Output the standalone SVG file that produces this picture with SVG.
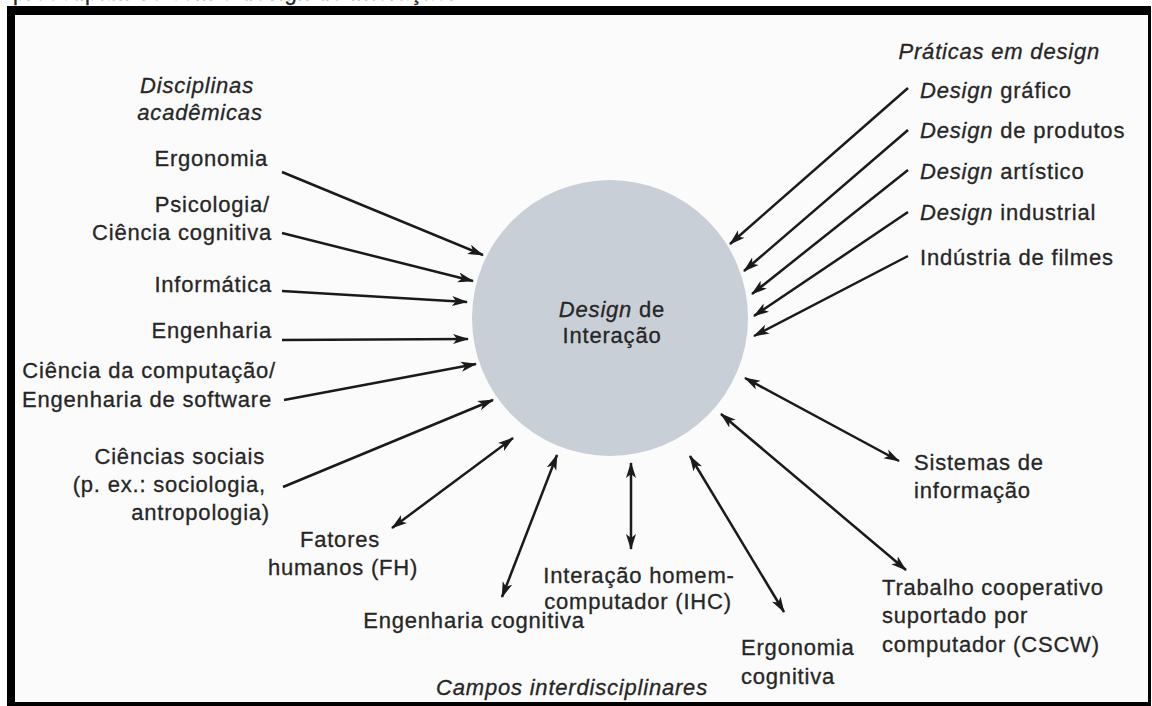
<svg xmlns="http://www.w3.org/2000/svg" width="1152" height="706" viewBox="0 0 1152 706">
<style>
.t{font-family:"Liberation Sans",Arial,sans-serif;font-size:22px;letter-spacing:0.8px;fill:#262626;stroke:#262626;stroke-width:0.3}
.i{font-style:italic}
.e{text-anchor:end}
.m{text-anchor:middle}
.c{stroke:#1a1a1a;stroke-width:2.5;fill:none}
.one{marker-end:url(#ah)}
.two{marker-start:url(#ah);marker-end:url(#ah)}
</style>
<defs>
<marker id="ah" viewBox="0 0 16 11" refX="15" refY="5.5" markerWidth="16" markerHeight="11" markerUnits="userSpaceOnUse" orient="auto-start-reverse">
<path d="M0,0.5 L16,5.5 L0,10.5 L4,5.5 z" fill="#1a1a1a"/>
</marker>
</defs>
<rect x="0" y="0" width="1152" height="706" fill="#ffffff"/>
<text class="t" x="13" y="0">preocupam-se com o design de interação.</text>
<rect x="7" y="6" width="1144" height="700" fill="#000"/>
<rect x="15" y="15" width="1133" height="687" fill="#fbfbfb"/>

<g id="center">
<circle cx="610" cy="318" r="138" fill="#c9cfd7"/>
<text class="t m" x="612" y="317"><tspan class="i">Design</tspan> de</text>
<text class="t m" x="612" y="343">Interação</text>
</g>

<g id="heading-disciplinas">
<text class="t i m" x="197" y="93">Disciplinas</text>
<text class="t i m" x="200" y="120">acadêmicas</text>
</g>
<g id="ergonomia"><text class="t e" x="268" y="166">Ergonomia</text></g>
<g id="psicologia">
<text class="t e" x="270" y="212">Psicologia/</text>
<text class="t e" x="272" y="240">Ciência cognitiva</text>
</g>
<g id="informatica"><text class="t e" x="272" y="292">Informática</text></g>
<g id="engenharia"><text class="t e" x="272" y="338">Engenharia</text></g>
<g id="ciencia-computacao">
<text class="t e" x="276" y="378">Ciência da computação/</text>
<text class="t e" x="272" y="407">Engenharia de software</text>
</g>
<g id="ciencias-sociais">
<text class="t e" x="265" y="464">Ciências sociais</text>
<text class="t e" x="266" y="492">(p. ex.: sociologia,</text>
<text class="t e" x="270" y="520">antropologia)</text>
</g>

<g id="fatores-humanos">
<text class="t m" x="340" y="547">Fatores</text>
<text class="t m" x="343" y="575">humanos (FH)</text>
</g>
<g id="engenharia-cognitiva"><text class="t m" x="474" y="628">Engenharia cognitiva</text></g>
<g id="ihc">
<text class="t m" x="639" y="583">Interação homem-</text>
<text class="t m" x="638" y="609">computador (IHC)</text>
</g>
<g id="ergonomia-cognitiva">
<text class="t" x="741" y="655">Ergonomia</text>
<text class="t" x="741" y="684">cognitiva</text>
</g>
<g id="sistemas-informacao">
<text class="t" x="914" y="470">Sistemas de</text>
<text class="t" x="914" y="498">informação</text>
</g>
<g id="cscw">
<text class="t" x="882" y="595">Trabalho cooperativo</text>
<text class="t" x="882" y="623">suportado por</text>
<text class="t" x="882" y="652">computador (CSCW)</text>
</g>
<g id="heading-campos"><text class="t i m" x="572" y="695">Campos interdisciplinares</text></g>

<g id="heading-praticas"><text class="t i e" x="1100" y="59">Práticas em design</text></g>
<g id="design-grafico"><text class="t" x="920" y="98"><tspan class="i">Design</tspan> gráfico</text></g>
<g id="design-produtos"><text class="t" x="920" y="138"><tspan class="i">Design</tspan> de produtos</text></g>
<g id="design-artistico"><text class="t" x="920" y="179"><tspan class="i">Design</tspan> artístico</text></g>
<g id="design-industrial"><text class="t" x="920" y="220"><tspan class="i">Design</tspan> industrial</text></g>
<g id="industria-filmes"><text class="t" x="920" y="265">Indústria de filmes</text></g>

<g id="connectors">
<path class="c one" d="M282,172 L483,255"/>
<path class="c one" d="M282,233 L473,281"/>
<path class="c one" d="M282,291 L467,302"/>
<path class="c one" d="M282,340 L468,339"/>
<path class="c one" d="M284,400 L476,364"/>
<path class="c one" d="M283,487 L493,400"/>
<path class="c two" d="M392,528 L513,438"/>
<path class="c two" d="M502,597 L557,455"/>
<path class="c two" d="M631,463 L631,549"/>
<path class="c two" d="M690,456 L784,612"/>
<path class="c two" d="M721,414 L906,570"/>
<path class="c two" d="M745,378 L899,461"/>
<path class="c one" d="M908,88 L730,244"/>
<path class="c one" d="M908,130 L744,271"/>
<path class="c one" d="M908,170 L752,294"/>
<path class="c one" d="M908,212 L754,316"/>
<path class="c one" d="M908,256 L754,336"/>
</g>
</svg>
